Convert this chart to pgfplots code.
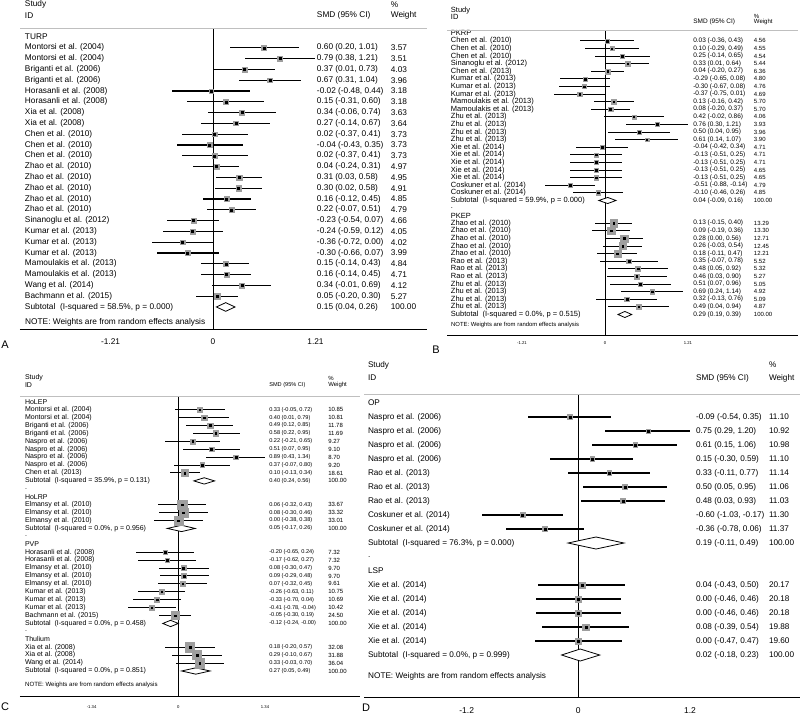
\documentclass[border=0pt]{standalone}
\usepackage{fontspec}
\setmainfont{Liberation Sans}
\usepackage{pgfplots}
\usepackage{pgfplotstable}
\pgfplotsset{compat=1.18}

\newcommand\fs[1]{\fontsize{#1}{#1}\selectfont}

% panel A: TURP
\pgfplotstableread[col sep=semicolon]{
y;est;lo;hi;w;name;ci;wt
1;0.60;0.20;1.01;3.57;Montorsi et al. (2004);0.60 (0.20, 1.01);3.57
2;0.79;0.38;1.21;3.51;Montorsi et al. (2004);0.79 (0.38, 1.21);3.51
3;0.37;0.01;0.73;4.03;Briganti et al. (2006);0.37 (0.01, 0.73);4.03
4;0.67;0.31;1.04;3.96;Briganti et al. (2006);0.67 (0.31, 1.04);3.96
5;-0.02;-0.48;0.44;3.18;Horasanli et al. (2008);-0.02 (-0.48, 0.44);3.18
6;0.15;-0.31;0.60;3.18;Horasanli et al. (2008);0.15 (-0.31, 0.60);3.18
7;0.34;-0.06;0.74;3.63;Xia et al. (2008);0.34 (-0.06, 0.74);3.63
8;0.27;-0.14;0.67;3.64;Xia et al. (2008);0.27 (-0.14, 0.67);3.64
9;0.02;-0.37;0.41;3.73;Chen et al. (2010);0.02 (-0.37, 0.41);3.73
10;-0.04;-0.43;0.35;3.73;Chen et al. (2010);-0.04 (-0.43, 0.35);3.73
11;0.02;-0.37;0.41;3.73;Chen et al. (2010);0.02 (-0.37, 0.41);3.73
12;0.04;-0.24;0.31;4.97;Zhao et al. (2010);0.04 (-0.24, 0.31);4.97
13;0.31;0.03;0.58;4.95;Zhao et al. (2010);0.31 (0.03, 0.58);4.95
14;0.30;0.02;0.58;4.91;Zhao et al. (2010);0.30 (0.02, 0.58);4.91
15;0.16;-0.12;0.45;4.85;Zhao et al. (2010);0.16 (-0.12, 0.45);4.85
16;0.22;-0.07;0.51;4.79;Zhao et al. (2010);0.22 (-0.07, 0.51);4.79
17;-0.23;-0.54;0.07;4.66;Sinanoglu et al. (2012);-0.23 (-0.54, 0.07);4.66
18;-0.24;-0.59;0.12;4.05;Kumar et al. (2013);-0.24 (-0.59, 0.12);4.05
19;-0.36;-0.72;0.00;4.02;Kumar et al. (2013);-0.36 (-0.72, 0.00);4.02
20;-0.30;-0.66;0.07;3.99;Kumar et al. (2013);-0.30 (-0.66, 0.07);3.99
21;0.15;-0.14;0.43;4.84;Mamoulakis et al. (2013);0.15 (-0.14, 0.43);4.84
22;0.16;-0.14;0.45;4.71;Mamoulakis et al. (2013);0.16 (-0.14, 0.45);4.71
23;0.34;-0.01;0.69;4.12;Wang et al. (2014);0.34 (-0.01, 0.69);4.12
24;0.05;-0.20;0.30;5.27;Bachmann et al. (2015);0.05 (-0.20, 0.30);5.27
}\studA
\pgfplotstableread[col sep=semicolon]{
y;name;ci;wt
-3;Study;;\%
-2;ID;SMD (95\% CI);Weight
0;TURP;;
25;Subtotal\ \ (I-squared = 58.5\%, p = 0.000);0.15 (0.04, 0.26);100.00
}\lblA

% panel B: PKRP / PKEP
\pgfplotstableread[col sep=semicolon]{
y;est;lo;hi;w;name;ci;wt
1;0.03;-0.36;0.43;4.56;Chen et al. (2010);0.03 (-0.36, 0.43);4.56
2;0.10;-0.29;0.49;4.55;Chen et al. (2010);0.10 (-0.29, 0.49);4.55
3;0.25;-0.14;0.65;4.54;Chen et al. (2010);0.25 (-0.14, 0.65);4.54
4;0.33;0.01;0.64;5.44;Sinanoglu et al. (2012);0.33 (0.01, 0.64);5.44
5;0.04;-0.20;0.27;6.36;Chen et al. (2013);0.04 (-0.20, 0.27);6.36
6;-0.29;-0.65;0.08;4.80;Kumar et al. (2013);-0.29 (-0.65, 0.08);4.80
7;-0.30;-0.67;0.08;4.76;Kumar et al. (2013);-0.30 (-0.67, 0.08);4.76
8;-0.37;-0.75;0.01;4.69;Kumar et al. (2013);-0.37 (-0.75, 0.01);4.69
9;0.13;-0.16;0.42;5.70;Mamoulakis et al. (2013);0.13 (-0.16, 0.42);5.70
10;0.08;-0.20;0.37;5.70;Mamoulakis et al. (2013);0.08 (-0.20, 0.37);5.70
11;0.42;-0.02;0.86;4.06;Zhu et al. (2013);0.42 (-0.02, 0.86);4.06
12;0.76;0.30;1.21;3.93;Zhu et al. (2013);0.76 (0.30, 1.21);3.93
13;0.50;0.04;0.95;3.96;Zhu et al. (2013);0.50 (0.04, 0.95);3.96
14;0.61;0.14;1.07;3.90;Zhu et al. (2013);0.61 (0.14, 1.07);3.90
15;-0.04;-0.42;0.34;4.71;Xie et al. (2014);-0.04 (-0.42, 0.34);4.71
16;-0.13;-0.51;0.25;4.71;Xie et al. (2014);-0.13 (-0.51, 0.25);4.71
17;-0.13;-0.51;0.25;4.71;Xie et al. (2014);-0.13 (-0.51, 0.25);4.71
18;-0.13;-0.51;0.25;4.65;Xie et al. (2014);-0.13 (-0.51, 0.25);4.65
19;-0.13;-0.51;0.25;4.65;Xie et al. (2014);-0.13 (-0.51, 0.25);4.65
20;-0.51;-0.88;-0.14;4.79;Coskuner et al. (2014);-0.51 (-0.88, -0.14);4.79
21;-0.10;-0.46;0.26;4.85;Coskuner et al. (2014);-0.10 (-0.46, 0.26);4.85
25;0.13;-0.15;0.40;13.29;Zhao et al. (2010);0.13 (-0.15, 0.40);13.29
26;0.09;-0.19;0.36;13.30;Zhao et al. (2010);0.09 (-0.19, 0.36);13.30
27;0.28;0.00;0.56;12.71;Zhao et al. (2010);0.28 (0.00, 0.56);12.71
28;0.26;-0.03;0.54;12.45;Zhao et al. (2010);0.26 (-0.03, 0.54);12.45
29;0.18;-0.11;0.47;12.21;Zhao et al. (2010);0.18 (-0.11, 0.47);12.21
30;0.35;-0.07;0.78;5.52;Rao et al. (2013);0.35 (-0.07, 0.78);5.52
31;0.48;0.05;0.92;5.32;Rao et al. (2013);0.48 (0.05, 0.92);5.32
32;0.46;0.03;0.90;5.27;Rao et al. (2013);0.46 (0.03, 0.90);5.27
33;0.51;0.07;0.96;5.05;Zhu et al. (2013);0.51 (0.07, 0.96);5.05
34;0.69;0.24;1.14;4.92;Zhu et al. (2013);0.69 (0.24, 1.14);4.92
35;0.32;-0.13;0.76;5.09;Zhu et al. (2013);0.32 (-0.13, 0.76);5.09
36;0.49;0.04;0.94;4.87;Zhu et al. (2013);0.49 (0.04, 0.94);4.87
}\studB
\pgfplotstableread[col sep=semicolon]{
y;name;ci;wt
-3.0;Study;;
-2.2;ID;;\%
-1.5;;SMD (95\% CI);Weight
0;PKRP;;
22;Subtotal\ \ (I-squared = 59.9\%, p = 0.000);0.04 (-0.09, 0.16);100.00
23;.;;
24;PKEP;;
37;Subtotal\ \ (I-squared = 0.0\%, p = 0.515);0.29 (0.19, 0.39);100.00
}\lblB

% panel C: HoLEP / HoLRP / PVP / Thulium
\pgfplotstableread[col sep=semicolon]{
y;est;lo;hi;w;name;ci;wt
1;0.33;-0.05;0.72;10.85;Montorsi et al. (2004);0.33 (-0.05, 0.72);10.85
2;0.40;0.01;0.79;10.81;Montorsi et al. (2004);0.40 (0.01, 0.79);10.81
3;0.49;0.12;0.85;11.78;Briganti et al. (2006);0.49 (0.12, 0.85);11.78
4;0.58;0.22;0.95;11.69;Briganti et al. (2006);0.58 (0.22, 0.95);11.69
5;0.22;-0.21;0.65;9.27;Naspro et al. (2006);0.22 (-0.21, 0.65);9.27
6;0.51;0.07;0.95;9.10;Naspro et al. (2006);0.51 (0.07, 0.95);9.10
7;0.89;0.43;1.34;8.70;Naspro et al. (2006);0.89 (0.43, 1.34);8.70
8;0.37;-0.07;0.80;9.20;Naspro et al. (2006);0.37 (-0.07, 0.80);9.20
9;0.10;-0.13;0.34;18.61;Chen et al. (2013);0.10 (-0.13, 0.34);18.61
13;0.06;-0.32;0.43;33.67;Elmansy et al. (2010);0.06 (-0.32, 0.43);33.67
14;0.08;-0.30;0.46;33.32;Elmansy et al. (2010);0.08 (-0.30, 0.46);33.32
15;0.00;-0.38;0.38;33.01;Elmansy et al. (2010);0.00 (-0.38, 0.38);33.01
19;-0.20;-0.65;0.24;7.32;Horasanli et al. (2008);-0.20 (-0.65, 0.24);7.32
20;-0.17;-0.62;0.27;7.32;Horasanli et al. (2008);-0.17 (-0.62, 0.27);7.32
21;0.08;-0.30;0.47;9.70;Elmansy et al. (2010);0.08 (-0.30, 0.47);9.70
22;0.09;-0.29;0.48;9.70;Elmansy et al. (2010);0.09 (-0.29, 0.48);9.70
23;0.07;-0.32;0.45;9.61;Elmansy et al. (2010);0.07 (-0.32, 0.45);9.61
24;-0.26;-0.63;0.11;10.75;Kumar et al. (2013);-0.26 (-0.63, 0.11);10.75
25;-0.33;-0.70;0.04;10.69;Kumar et al. (2013);-0.33 (-0.70, 0.04);10.69
26;-0.41;-0.78;-0.04;10.42;Kumar et al. (2013);-0.41 (-0.78, -0.04);10.42
27;-0.05;-0.30;0.19;24.50;Bachmann et al. (2015);-0.05 (-0.30, 0.19);24.50
31;0.18;-0.20;0.57;32.08;Xia et al. (2008);0.18 (-0.20, 0.57);32.08
32;0.29;-0.10;0.67;31.88;Xia et al. (2008);0.29 (-0.10, 0.67);31.88
33;0.33;-0.03;0.70;36.04;Wang et al. (2014);0.33 (-0.03, 0.70);36.04
}\studC
\pgfplotstableread[col sep=semicolon]{
y;name;ci;wt
-3.0;Study;;\%
-2.15;ID;SMD (95\% CI);Weight
0;HoLEP;;
10;Subtotal\ \ (I-squared = 35.9\%, p = 0.131);0.40 (0.24, 0.56);100.00
11;.;;
12;HoLRP;;
16;Subtotal\ \ (I-squared = 0.0\%, p = 0.956);0.05 (-0.17, 0.26);100.00
17;.;;
18;PVP;;
28;Subtotal\ \ (I-squared = 0.0\%, p = 0.458);-0.12 (-0.24, -0.00);100.00
29;.;;
30;Thulium;;
34;Subtotal\ \ (I-squared = 0.0\%, p = 0.851);0.27 (0.05, 0.49);100.00
}\lblC

% panel D: OP / LSP
\pgfplotstableread[col sep=semicolon]{
y;est;lo;hi;w;name;ci;wt
1;-0.09;-0.54;0.35;11.10;Naspro et al. (2006);-0.09 (-0.54, 0.35);11.10
2;0.75;0.29;1.20;10.92;Naspro et al. (2006);0.75 (0.29, 1.20);10.92
3;0.61;0.15;1.06;10.98;Naspro et al. (2006);0.61 (0.15, 1.06);10.98
4;0.15;-0.30;0.59;11.10;Naspro et al. (2006);0.15 (-0.30, 0.59);11.10
5;0.33;-0.11;0.77;11.14;Rao et al. (2013);0.33 (-0.11, 0.77);11.14
6;0.50;0.05;0.95;11.06;Rao et al. (2013);0.50 (0.05, 0.95);11.06
7;0.48;0.03;0.93;11.03;Rao et al. (2013);0.48 (0.03, 0.93);11.03
8;-0.60;-1.03;-0.17;11.30;Coskuner et al. (2014);-0.60 (-1.03, -0.17);11.30
9;-0.36;-0.78;0.06;11.37;Coskuner et al. (2014);-0.36 (-0.78, 0.06);11.37
13;0.04;-0.43;0.50;20.17;Xie et al. (2014);0.04 (-0.43, 0.50);20.17
14;0.00;-0.46;0.46;20.18;Xie et al. (2014);0.00 (-0.46, 0.46);20.18
15;0.00;-0.46;0.46;20.18;Xie et al. (2014);0.00 (-0.46, 0.46);20.18
16;0.08;-0.39;0.54;19.88;Xie et al. (2014);0.08 (-0.39, 0.54);19.88
17;0.00;-0.47;0.47;19.60;Xie et al. (2014);0.00 (-0.47, 0.47);19.60
}\studD
\pgfplotstableread[col sep=semicolon]{
y;name;ci;wt
-2.71;Study;;\%
-1.79;ID;SMD (95\% CI);Weight
0;OP;;
10;Subtotal\ \ (I-squared = 76.3\%, p = 0.000);0.19 (-0.11, 0.49);100.00
11;.;;
12;LSP;;
18;Subtotal\ \ (I-squared = 0.0\%, p = 0.999);0.02 (-0.18, 0.23);100.00
}\lblD

\pgfplotsset{
  fplot/.style={scale only axis, clip=false, y dir=reverse,
    axis x line*=bottom, axis y line=none,
    x axis line style={-, black},
    major tick length=0pt,
    xticklabel style={anchor=center}},
  txt/.style={black, draw=none, mark=none, nodes near coords,
    point meta=explicit symbolic,
    nodes near coords style={anchor=west, inner sep=0pt, outer sep=0pt, text=black, font=#1}},
  ci/.style={draw=none, mark=none, error bars/x dir=both, error bars/x explicit,
    error bars/error mark=none,
    error bars/error bar style={draw=black, solid, line width=#1}},
  box/.style={scatter, only marks, mark=square*,
    visualization depends on={\thisrow{w} \as \wt},
    scatter/use mapped color={draw=black!38, fill=black!38},
    scatter/@pre marker code/.append style={/tikz/mark size={#1*sqrt(\wt)}}},
  dot/.style={only marks, mark=square*, mark size=#1, black},
  dmd/.style={black, fill=white, line width=0.8pt, mark=none},
}

% table, x of name / ci / weight, fonts of the three columns
\newcommand\txts[7]{%
  \addplot[txt={#5}] table[x expr=#2, y=y, meta=name] {#1};
  \addplot[txt={#6}] table[x expr=#3, y=y, meta=ci] {#1};
  \addplot[txt={#7}] table[x expr=#4, y=y, meta=wt] {#1};}
% table, box scale, line width, dot size
\newcommand\forest[4]{%
  \addplot[box=#2] table[x=est, y=y] {#1};
  \addplot[ci=#3] table[x=est, y=y, x error plus expr=\thisrow{hi}-\thisrow{est},
    x error minus expr=\thisrow{est}-\thisrow{lo}] {#1};
  \addplot[dot=#4] table[x=est, y=y] {#1};}

\begin{document}
\begin{tikzpicture}
\useasboundingbox (0,0) rectangle (800pt,-715pt);

% ---- A
\begin{axis}[fplot, name=A, at={(20pt,-28pt)}, anchor=north west,
  width=407pt, height=301pt,
  xmin=-2.279, xmax=2.527, ymin=-0.833, ymax=27.04,
  x axis line style={line width=1pt},
  xtick={-1.21,0,1.21}, xticklabels={-1.21,0,1.21},
  xticklabel style={font=\fs{8.3}, yshift=-13pt}]
\addplot[black, line width=0.8pt] coordinates {(0,-0.833) (0,27.04)};
\forest{\studA}{1.2}{1.3pt}{1pt}
\addplot[dmd] coordinates {(0.04,25) (0.15,24.6) (0.26,25) (0.15,25.4)} -- cycle;
\txts{\studA}{-2.22}{1.228}{2.10}{\fs{8.3}}{\fs{8.3}}{\fs{8.3}}
\txts{\lblA}{-2.22}{1.228}{2.10}{\fs{8.3}}{\fs{8.3}}{\fs{8.3}}
\node[anchor=west, inner sep=0pt, font=\fs{8.3}] at (axis cs:-2.22,26.4)
  {NOTE: Weights are from random effects analysis};
\end{axis}
\draw[black!25, line width=1pt] (A.north west) -- (A.north east);
\node[font=\fs{11}] at (5pt,-345pt) {A};

% ---- B
\begin{axis}[fplot, name=B, at={(447pt,-30pt)}, anchor=north west,
  width=351pt, height=305.3pt,
  xmin=-2.303, xmax=2.814, ymin=-0.434, ymax=39.74,
  x axis line style={line width=0.8pt},
  xtick={-1.21,0,1.21}, xticklabels={-1.21,0,1.21},
  xticklabel style={font=\fs{4.2}, yshift=-8pt}]
\addplot[black, line width=0.7pt] coordinates {(0,-0.434) (0,39.74)};
\forest{\studB}{1.0}{1pt}{0.8pt}
\addplot[dmd] coordinates {(-0.09,22) (0.04,21.6) (0.16,22) (0.04,22.4)} -- cycle;
\addplot[dmd] coordinates {(0.19,37) (0.29,36.6) (0.39,37) (0.29,37.4)} -- cycle;
\txts{\studB}{-2.245}{1.287}{2.172}{\fs{7.5}}{\fs{6.5}}{\fs{6}}
\txts{\lblB}{-2.245}{1.287}{2.172}{\fs{7.5}}{\fs{6.5}}{\fs{6}}
\node[anchor=west, inner sep=0pt, font=\fs{5.9}] at (axis cs:-2.245,38.4)
  {NOTE: Weights are from random effects analysis};
\end{axis}
\draw[black!25, line width=0.8pt] (B.north west) -- (B.north east);
\node[font=\fs{11}] at (436pt,-350pt) {B};

% ---- C
\begin{axis}[fplot, name=C, at={(20pt,-396pt)}, anchor=north west,
  width=340pt, height=300pt,
  xmin=-2.447, xmax=2.808, ymin=-0.72, ymax=37.16,
  x axis line style={line width=0.8pt},
  xtick={-1.34,0,1.34}, xticklabels={-1.34,0,1.34},
  xticklabel style={font=\fs{4.2}, yshift=-11pt}]
\addplot[black, line width=0.7pt] coordinates {(0,-0.72) (0,37.16)};
\forest{\studC}{0.8}{1pt}{0.8pt}
\addplot[dmd] coordinates {(0.24,10) (0.40,9.6) (0.56,10) (0.40,10.4)} -- cycle;
\addplot[dmd] coordinates {(-0.17,16) (0.05,15.6) (0.26,16) (0.05,16.4)} -- cycle;
\addplot[dmd] coordinates {(-0.24,28) (-0.12,27.6) (0.00,28) (-0.12,28.4)} -- cycle;
\addplot[dmd] coordinates {(0.05,34) (0.27,33.6) (0.49,34) (0.27,34.4)} -- cycle;
\txts{\studC}{-2.369}{1.406}{2.318}{\fs{7}}{\fs{5.6}}{\fs{6}}
\txts{\lblC}{-2.369}{1.406}{2.318}{\fs{7}}{\fs{5.6}}{\fs{6}}
\node[anchor=west, inner sep=0pt, font=\fs{6.1}] at (axis cs:-2.369,35.8)
  {NOTE: Weights are from random effects analysis};
\end{axis}
\draw[black!25, line width=0.8pt] (C.north west) -- (C.north east);
\node[font=\fs{11}] at (5pt,-707pt) {C};

% ---- D
\begin{axis}[fplot, name=D, at={(364pt,-394pt)}, anchor=north west,
  width=436pt, height=303pt,
  xmin=-2.303, xmax=2.382, ymin=-0.643, ymax=21.0,
  x axis line style={line width=1pt},
  xtick={-1.2,0,1.2}, xticklabels={-1.2,0,1.2},
  xticklabel style={font=\fs{8.5}, yshift=-14pt}]
\addplot[black, line width=0.8pt] coordinates {(0,-0.643) (0,21.0)};
\forest{\studD}{0.7}{1.4pt}{1pt}
\addplot[dmd] coordinates {(-0.11,10) (0.19,9.57) (0.49,10) (0.19,10.43)} -- cycle;
\addplot[dmd] coordinates {(-0.18,18) (0.02,17.57) (0.23,18) (0.02,18.43)} -- cycle;
\txts{\studD}{-2.26}{1.265}{2.049}{\fs{8.2}}{\fs{8.2}}{\fs{8.2}}
\txts{\lblD}{-2.26}{1.265}{2.049}{\fs{8.2}}{\fs{8.2}}{\fs{8.2}}
\node[anchor=west, inner sep=0pt, font=\fs{8.2}] at (axis cs:-2.26,19.5)
  {NOTE: Weights are from random effects analysis};
\end{axis}
\draw[black!25, line width=1pt] (D.north west) -- (D.north east);
\node[font=\fs{11}] at (366pt,-708pt) {D};
\end{tikzpicture}
\end{document}
